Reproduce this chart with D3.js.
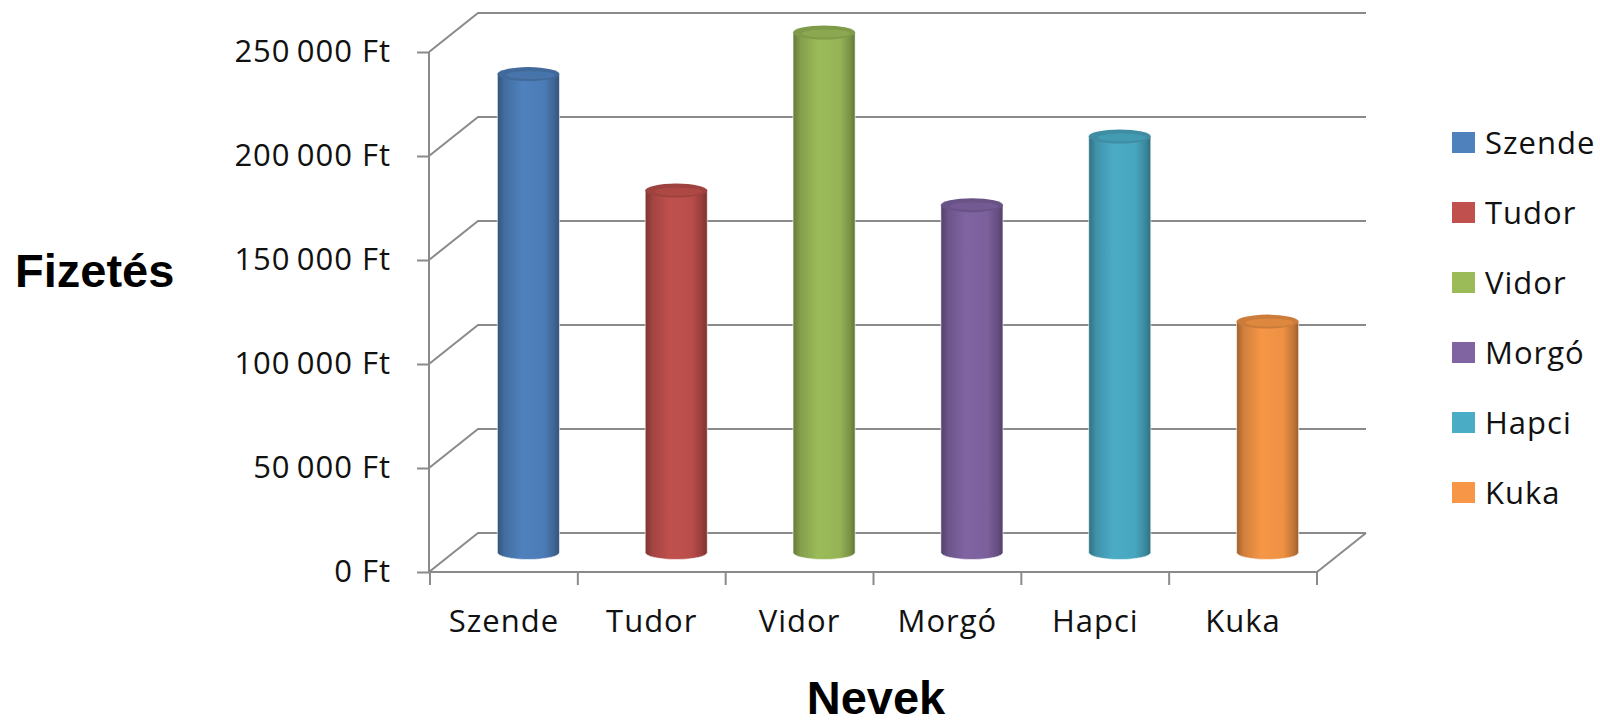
<!DOCTYPE html>
<html>
<head>
<meta charset="utf-8">
<script src="https://cdn.jsdelivr.net/npm/d3@7"></script>
<style>
  body { margin: 0; background: #fff; }
</style>
</head>
<body>
<div id="chart"></div>
<script>
// data
var names = ["Szende", "Tudor", "Vidor", "Morgó", "Hapci", "Kuka"];
var salaries = [230000, 174000, 250000, 167000, 200000, 111000];
var colors = ["#4F81BD", "#C0504D", "#9BBB59", "#8064A2", "#4BACC6", "#F79646"];
var yTicks = [0, 50000, 100000, 150000, 200000, 250000];

var width = 1600, height = 725;
// fake 3d depth of the plot box
var depthX = 49, depthY = -39;
var labelFont = "'Open Sans', sans-serif";
var titleFont = "'Liberation Sans', Arial, sans-serif";

var svg = d3.select("#chart")
  .append("svg")
    .attr("width", width)
    .attr("height", height);

var x = d3.scaleBand().domain(names).range([430, 1317]).padding(0);
var y = d3.scaleLinear().domain([0, 250000]).range([572, 52]);

var huLocale = d3.formatLocale({decimal: ",", thousands: "\u2009", grouping: [3], currency: ["", " Ft"]});
var fmt = huLocale.format("$,.0f");

var gridColor = "#8a8a8a";

// back wall + left wall grid lines
var grid = svg.append("g").attr("class", "grid");
yTicks.forEach(function(t) {
  var yy = y(t);
  grid.append("path")
    .attr("d", "M" + 429 + "," + yy + " L" + (429 + depthX) + "," + (yy + depthY) +
               " L" + (1317 + depthX) + "," + (yy + depthY))
    .attr("fill", "none")
    .attr("stroke", gridColor)
    .attr("stroke-width", 2);
});

// floor: front edge and right edge
grid.append("path")
  .attr("d", "M429," + y(0) + " L1317," + y(0) + " L" + (1317 + depthX) + "," + (y(0) + depthY))
  .attr("fill", "none")
  .attr("stroke", gridColor)
  .attr("stroke-width", 2);

// front vertical axis line
grid.append("line")
  .attr("x1", 429).attr("x2", 429)
  .attr("y1", y(0)).attr("y2", y(250000))
  .attr("stroke", gridColor)
  .attr("stroke-width", 2);

// y axis labels + small ticks
var yAxis = d3.axisLeft(y).tickValues(yTicks).tickFormat(fmt).tickSize(12).tickPadding(26);
var gy = svg.append("g").attr("transform", "translate(429,0)").call(yAxis);
gy.select(".domain").remove();
gy.selectAll(".tick line").attr("stroke", gridColor).attr("stroke-width", 2);
gy.selectAll(".tick text")
  .style("font-family", labelFont).style("font-size", "31px")
  .attr("letter-spacing", 1).attr("fill", "#111");

// x axis labels
var xAxis = d3.axisBottom(x).tickSize(0).tickPadding(38);
var gx = svg.append("g").attr("transform", "translate(0," + y(0) + ")").call(xAxis);
gx.select(".domain").remove();
gx.selectAll(".tick text")
  .style("font-family", labelFont).style("font-size", "31px")
  .attr("letter-spacing", 1).attr("fill", "#111");

// x ticks sit on category borders
var borders = names.map(function(n) { return x(n); }).concat([x.range()[1]]);
svg.append("g").selectAll("line")
  .data(borders)
  .join("line")
    .attr("x1", function(d) { return d; })
    .attr("x2", function(d) { return d; })
    .attr("y1", y(0))
    .attr("y2", y(0) + 13)
    .attr("stroke", gridColor)
    .attr("stroke-width", 2);

// gradients for cylinders
var defs = svg.append("defs");
colors.forEach(function(c, i) {
  var base = d3.color(c);
  var g = defs.append("linearGradient").attr("id", "cyl" + i)
    .attr("x1", "0%").attr("x2", "100%").attr("y1", "0%").attr("y2", "0%");
  g.append("stop").attr("offset", "0%").attr("stop-color", base.darker(1.2));
  g.append("stop").attr("offset", "12%").attr("stop-color", base.darker(0.45));
  g.append("stop").attr("offset", "40%").attr("stop-color", base);
  g.append("stop").attr("offset", "75%").attr("stop-color", base.darker(0.1));
  g.append("stop").attr("offset", "92%").attr("stop-color", base.darker(0.7));
  g.append("stop").attr("offset", "100%").attr("stop-color", base.darker(1.3));
});

// cylinders, centred half way into the depth
var rx = x.bandwidth() * 0.21, ry = 7;
var bars = svg.append("g").selectAll("g")
  .data(names)
  .join("g");

bars.each(function(n, i) {
  var g = d3.select(this);
  var cx = x(n) + x.bandwidth() / 2 + depthX / 2;
  var yBot = y(0) + depthY / 2;
  var yTop = y(salaries[i]) + depthY / 2;
  var base = d3.color(colors[i]);
  g.append("path")
    .attr("d", "M" + (cx - rx) + "," + yTop +
               " L" + (cx - rx) + "," + yBot +
               " A" + rx + "," + ry + " 0 0 0 " + (cx + rx) + "," + yBot +
               " L" + (cx + rx) + "," + yTop + " Z")
    .attr("fill", "url(#cyl" + i + ")")
    .attr("stroke", "rgba(255,255,255,0.6)")
    .attr("stroke-width", 1);
  g.append("ellipse")
    .attr("cx", cx).attr("cy", yTop)
    .attr("rx", rx).attr("ry", ry)
    .attr("fill", base.darker(0.55));
  g.append("ellipse")
    .attr("cx", cx + 2).attr("cy", yTop + 1)
    .attr("rx", rx - 7).attr("ry", ry - 3)
    .attr("fill", base.darker(0.3));
});

// legend
var legend = svg.append("g").selectAll("g")
  .data(names)
  .join("g")
    .attr("transform", function(d, i) { return "translate(1452," + (143 + i * 70) + ")"; });
legend.append("rect")
  .attr("x", 0).attr("y", -11)
  .attr("width", 23).attr("height", 21)
  .attr("fill", function(d, i) { return colors[i]; });
legend.append("text")
  .attr("x", 33).attr("dy", "0.35em")
  .style("font-family", labelFont).style("font-size", "31px")
  .attr("letter-spacing", 1)
  .attr("fill", "#111")
  .text(function(d) { return d; });

// axis titles
svg.append("text")
  .attr("x", 15).attr("y", 287)
  .style("font-family", titleFont)
  .style("font-weight", "bold").style("font-size", "47px")
  .text("Fizetés");

svg.append("text")
  .attr("x", 876).attr("y", 714)
  .attr("text-anchor", "middle")
  .style("font-family", titleFont)
  .style("font-weight", "bold").style("font-size", "47px")
  .text("Nevek");
</script>
</body>
</html>
